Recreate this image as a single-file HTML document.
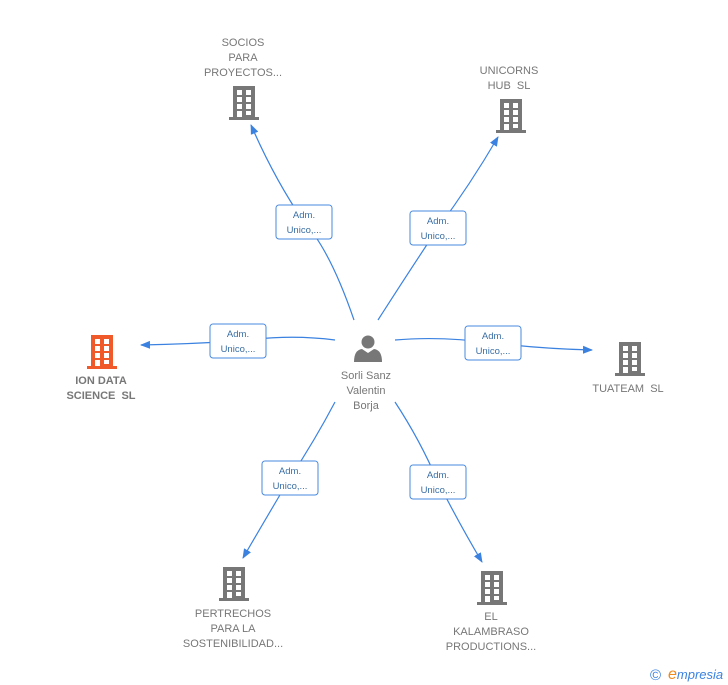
<!DOCTYPE html>
<html><head><meta charset="utf-8"><style>
html,body{margin:0;padding:0;background:#fff;}
svg{display:block;font-family:"Liberation Sans",sans-serif;}
.t{font-size:11px;fill:#777;text-anchor:middle;}
.l{font-size:9.5px;fill:#3a6ea5;text-anchor:middle;}
.e{fill:none;stroke:#3b82e0;stroke-width:1.2;}
.b{fill:#fff;stroke:#4a8ae0;stroke-width:1;}
</style></head><body>
<svg width="728" height="685" viewBox="0 0 728 685">
<defs>
<g id="bld">
<rect x="0" y="31" width="30" height="3"/>
<rect x="4" y="0" width="22" height="32"/>
<g fill="#fff">
<rect x="8" y="4" width="5" height="5"/><rect x="17" y="4" width="5" height="5"/>
<rect x="8" y="11" width="5" height="5"/><rect x="17" y="11" width="5" height="5"/>
<rect x="8" y="18" width="5" height="5"/><rect x="17" y="18" width="5" height="5"/>
<rect x="8" y="25" width="5" height="6"/><rect x="17" y="25" width="5" height="4"/>
</g>
</g>
<marker id="ar" markerWidth="10" markerHeight="10" refX="9" refY="5" orient="auto" markerUnits="userSpaceOnUse">
<path d="M0,1 L10,5 L0,9 Z" fill="#3b82e0"/>
</marker>
</defs>

<path class="e" d="M354,320 Q330,250 304,222 Q275,180 251,125" marker-end="url(#ar)"/>
<path class="e" d="M378,320 Q410,270 438,228 Q470,185 498,137" marker-end="url(#ar)"/>
<path class="e" d="M335,340 Q290,334 238,341 Q190,344 141,345" marker-end="url(#ar)"/>
<path class="e" d="M395,340 Q440,336 493,343 Q545,349 592,350" marker-end="url(#ar)"/>
<path class="e" d="M335,402 Q315,440 290,478 Q265,520 243,558" marker-end="url(#ar)"/>
<path class="e" d="M395,402 Q420,440 438,482 Q460,525 482,562" marker-end="url(#ar)"/>

<g>
<rect class="b" x="276" y="205" width="56" height="34" rx="3"/><text class="l" x="304" y="218">Adm.</text><text class="l" x="304" y="233">Unico,...</text>
<rect class="b" x="410" y="211" width="56" height="34" rx="3"/><text class="l" x="438" y="224">Adm.</text><text class="l" x="438" y="239">Unico,...</text>
<rect class="b" x="210" y="324" width="56" height="34" rx="3"/><text class="l" x="238" y="337">Adm.</text><text class="l" x="238" y="352">Unico,...</text>
<rect class="b" x="465" y="326" width="56" height="34" rx="3"/><text class="l" x="493" y="339">Adm.</text><text class="l" x="493" y="354">Unico,...</text>
<rect class="b" x="262" y="461" width="56" height="34" rx="3"/><text class="l" x="290" y="474">Adm.</text><text class="l" x="290" y="489">Unico,...</text>
<rect class="b" x="410" y="465" width="56" height="34" rx="3"/><text class="l" x="438" y="478">Adm.</text><text class="l" x="438" y="493">Unico,...</text>
</g>

<g fill="#777">
<circle cx="368" cy="342" r="6.5"/>
<path d="M354,362 Q354,350 362,349 L368,353 L374,349 Q382,350 382,362 Z"/>
</g>
<text class="t" x="366" y="379">Sorli Sanz</text>
<text class="t" x="366" y="394">Valentin</text>
<text class="t" x="366" y="409">Borja</text>

<use href="#bld" x="229" y="86" fill="#777"/>
<text class="t" x="243" y="46">SOCIOS</text><text class="t" x="243" y="61">PARA</text><text class="t" x="243" y="76">PROYECTOS...</text>

<use href="#bld" x="496" y="99" fill="#777"/>
<text class="t" x="509" y="74">UNICORNS</text><text class="t" x="509" y="89">HUB&#160;&#160;SL</text>

<use href="#bld" x="87" y="335" fill="#f05a2a"/>
<text class="t" x="101" y="384" style="font-weight:bold">ION DATA</text><text class="t" x="101" y="399" style="font-weight:bold">SCIENCE&#160;&#160;SL</text>

<use href="#bld" x="615" y="342" fill="#777"/>
<text class="t" x="628" y="392">TUATEAM&#160;&#160;SL</text>

<use href="#bld" x="219" y="567" fill="#777"/>
<text class="t" x="233" y="617">PERTRECHOS</text><text class="t" x="233" y="632">PARA LA</text><text class="t" x="233" y="647">SOSTENIBILIDAD...</text>

<use href="#bld" x="477" y="571" fill="#777"/>
<text class="t" x="491" y="620">EL</text><text class="t" x="491" y="635">KALAMBRASO</text><text class="t" x="491" y="650">PRODUCTIONS...</text>

<text x="650" y="680" style="font-size:15px;fill:#3b82e0">©</text>
<text x="668" y="679" style="font-size:13px;font-style:italic;fill:#3b82e0"><tspan fill="#f08a1a" style="font-size:16px">e</tspan>mpresia</text>
</svg>
</body></html>
